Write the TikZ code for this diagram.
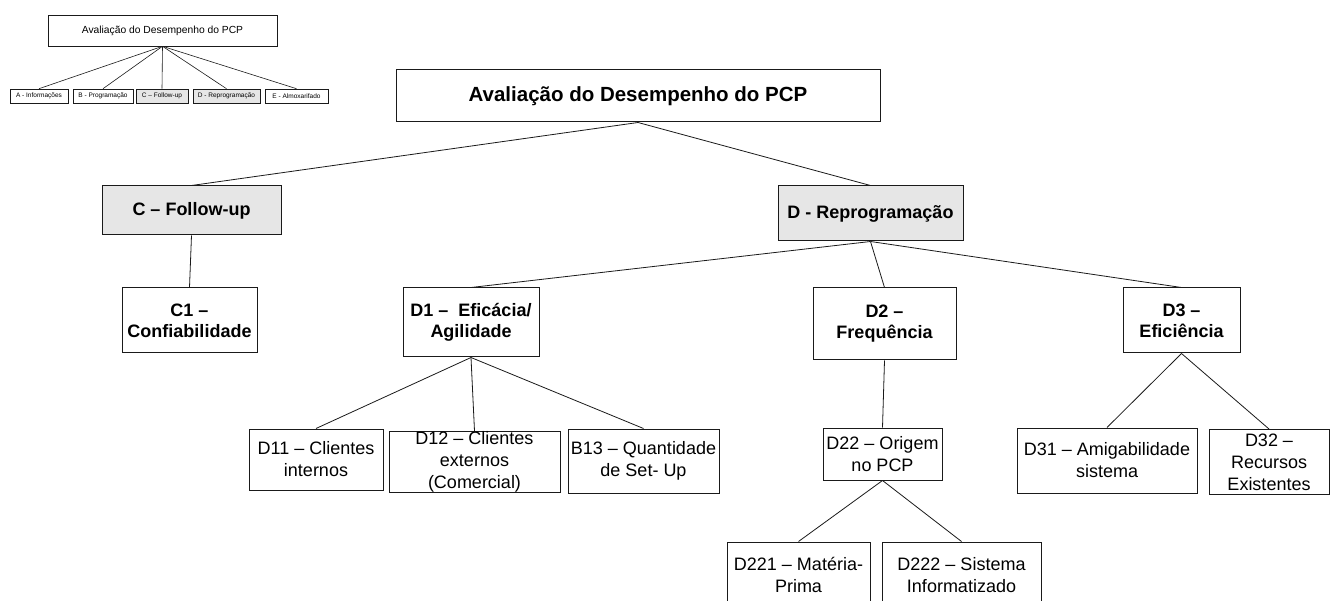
\documentclass[tikz,border=0pt]{standalone}
\usepackage{fontspec}
\setmainfont{Liberation Sans}
\definecolor{boxgray}{HTML}{E6E6E6}
\definecolor{edge}{HTML}{1A1A1A}

\begin{document}
\begin{tikzpicture}[
    x=1pt, y=-1pt,
    every node/.style={font=\fontsize{18}{22}\selectfont},
    box/.style={
        rectangle,
        draw=edge,
        line width=1pt,
        inner sep=0pt,
        align=center
    },
    heavy/.style={font=\fontsize{18}{21}\selectfont\bfseries},
    shaded/.style={fill=boxgray},
    mini/.style={
        rectangle,
        draw=edge,
        line width=0.6pt,
        inner sep=0pt,
        align=center,
        font=\fontsize{6.5}{8}\selectfont
    },
    link/.style={line width=0.8pt, color=edge}
]

% page frame
\clip (0,0) rectangle (1330,601);
\fill[white] (0,0) rectangle (1330,601);

% small overview tree
\node[mini, minimum width=229pt, minimum height=31pt, font=\fontsize{10.3}{12}\selectfont] (ovtop) at (162.5,30.5) {Avaliação do Desempenho do PCP};
\node[mini, minimum width=58pt, minimum height=14pt] (ova) at (39,96) {A - Informações};
\node[mini, minimum width=60pt, minimum height=14pt] (ovb) at (103,96) {B - Programação};
\node[mini, shaded, minimum width=52pt, minimum height=14pt] (ovc) at (162,96) {C -- Follow-up};
\node[mini, shaded, minimum width=67pt, minimum height=14pt] (ovd) at (226.5,96) {D - Reprogramação};
\node[mini, minimum width=63pt, minimum height=14pt] (ove) at (296.5,96) {E - Almoxarifado};

\foreach \leaf in {ova, ovb, ovc, ovd, ove}
    \draw[line width=0.6pt, color=edge] (ovtop.south) -- (\leaf.north);

% main tree
\node[box, font=\fontsize{20.5}{24}\selectfont\bfseries, minimum width=484pt, minimum height=52pt] (root) at (638,96) {Avaliação do Desempenho do PCP};

\node[box, heavy, shaded, minimum width=179pt, minimum height=49pt] (follow) at (191.5,210.5) {C -- Follow-up};
\node[box, heavy, shaded, minimum width=185pt, minimum height=55pt] (reprog) at (870.5,213.5) {D - Reprogramação};

\node[box, heavy, minimum width=135pt, minimum height=65pt] (c1) at (189.5,320.5) {C1 --\\Confiabilidade};
\node[box, heavy, minimum width=136pt, minimum height=69pt] (d1) at (471,322.5) {D1 --\ \ Eficácia/\\Agilidade};
\node[box, heavy, minimum width=143pt, minimum height=72pt] (d2) at (884.5,324) {D2 --\\Frequência};
\node[box, heavy, minimum width=117pt, minimum height=65pt] (d3) at (1181.5,320.5) {D3 --\\Eficiência};

\node[box, minimum width=134pt, minimum height=61pt] (d11) at (316,459.5) {D11 -- Clientes\\internos};
\node[box, minimum width=171pt, minimum height=61pt] (d12) at (474.5,462) {D12 -- Clientes\\externos\\(Comercial)};
\node[box, minimum width=151pt, minimum height=64pt] (b13) at (643.5,461) {B13 -- Quantidade\\de Set- Up};

\node[box, minimum width=119pt, minimum height=52pt] (d22) at (882.5,454) {D22 -- Origem\\no PCP};
\node[box, minimum width=143pt, minimum height=66pt] (d221) at (798.5,575) {D221 -- Matéria-\\Prima};
\node[box, minimum width=159pt, minimum height=66pt] (d222) at (961.5,575) {D222 -- Sistema\\Informatizado};

\node[box, minimum width=180pt, minimum height=65pt] (d31) at (1107,460.5) {D31 -- Amigabilidade\\sistema};
\node[box, minimum width=120pt, minimum height=65pt] (d32) at (1269,462) {D32 --\\Recursos\\Existentes};

% connectors
\draw[link] (root.south) -- (follow.north);
\draw[link] (root.south) -- (reprog.north);
\draw[link] (follow.south) -- (c1.north);
\foreach \kid in {d1, d2, d3}
    \draw[link] (reprog.south) -- (\kid.north);
\foreach \kid in {d11, d12, b13}
    \draw[link] (d1.south) -- (\kid.north);
\draw[link] (d2.south) -- (d22.north);
\draw[link] (d22.south) -- (d221.north);
\draw[link] (d22.south) -- (d222.north);
\draw[link] (d3.south) -- (d31.north);
\draw[link] (d3.south) -- (d32.north);

\end{tikzpicture}
\end{document}
